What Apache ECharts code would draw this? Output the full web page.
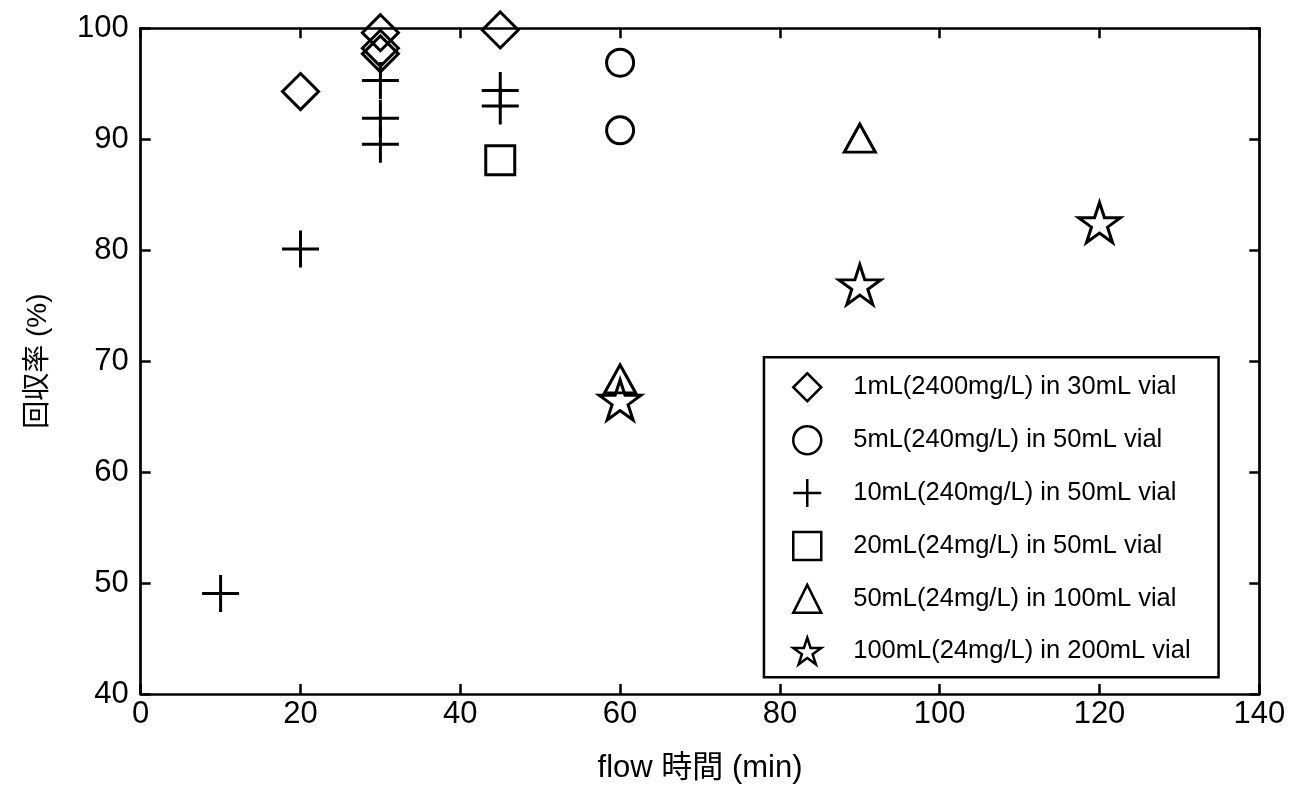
<!DOCTYPE html>
<html>
<head>
<meta charset="utf-8">
<script src="https://cdn.jsdelivr.net/npm/echarts@6/dist/echarts.min.js"></script>
<style>
html,body{margin:0;padding:0;background:#fff;}
#chart{width:1298px;height:789px;}
</style>
</head>
<body>
<div id="chart"></div>
<script>
// ---- data ----
const seriesNames = [
  '1mL(2400mg/L) in 30mL vial',
  '5mL(240mg/L) in 50mL vial',
  '10mL(240mg/L) in 50mL vial',
  '20mL(24mg/L) in 50mL vial',
  '50mL(24mg/L) in 100mL vial',
  '100mL(24mg/L) in 200mL vial'
];
const diamondX = [20, 30, 30, 30, 45];
const diamondY = [94.3, 99.6, 98.2, 97.7, 99.85];
const circleX = [60, 60];
const circleY = [96.9, 90.8];
const plusX = [10, 20, 30, 30, 30, 45, 45];
const plusY = [49.05, 80.1, 95.3, 91.9, 89.55, 94.4, 93.0];
const squareX = [45];
const squareY = [88.1];
const triangleX = [60, 90];
const triangleY = [68.4, 90.1];
const starX = [60, 90, 120];
const starY = [66.5, 76.9, 82.5];
const xTicks = [0, 20, 40, 60, 80, 100, 120, 140];
const yTicks = [40, 50, 60, 70, 80, 90, 100];

const FONT = "'Liberation Sans', 'Noto Sans CJK JP', sans-serif";
const STAR = 'path://M0,-1000L225,-309L951,-309L363,118L588,809L0,382L-588,809L-363,118L-951,-309L-225,-309Z';
const PLUS = 'path://M0,-100L0,100M-100,0L100,0';

function pts(xs, ys) { return xs.map((x, i) => [x, ys[i]]); }

const markerStyle = { color: 'rgba(255,255,255,0)', borderColor: '#000', borderWidth: 3, opacity: 1 };

const defs = [
  { data: pts(diamondX, diamondY), symbol: 'diamond', size: 36 },
  { data: pts(circleX, circleY), symbol: 'circle', size: 27 },
  { data: pts(plusX, plusY), symbol: PLUS, size: 37 },
  { data: pts(squareX, squareY), symbol: 'rect', size: 29 },
  { data: pts(triangleX, triangleY), symbol: 'triangle', size: [31, 28] },
  { data: pts(starX, starY), symbol: STAR, size: [42, 40] }
];

const series = defs.map((d, i) => ({
  name: seriesNames[i],
  type: 'scatter',
  data: d.data,
  symbol: d.symbol,
  symbolSize: d.size,
  itemStyle: markerStyle,
  emphasis: { disabled: true },
  xAxisIndex: 0,
  yAxisIndex: 0,
  z: 3
}));

const axisLineStyle = { color: '#000', width: 2.7 };
const tickStyle = { show: true, inside: true, length: 10, lineStyle: { color: '#000', width: 2.5 } };

const chart = echarts.init(document.getElementById('chart'), null, { renderer: 'canvas' });
chart.setOption({
  animation: false,
  backgroundColor: '#fff',
  textStyle: { fontFamily: FONT },
  grid: { left: 140.7, right: 38.7, top: 28.3, bottom: 91.3, containLabel: false },
  xAxis: [
    {
      type: 'value', min: xTicks[0], max: xTicks[xTicks.length - 1], interval: 20,
      position: 'bottom',
      name: 'flow 時間 (min)', nameLocation: 'middle', nameGap: 59,
      nameTextStyle: { fontSize: 31, color: '#000', fontFamily: FONT },
      axisLine: { show: true, onZero: false, lineStyle: axisLineStyle },
      axisTick: tickStyle,
      axisLabel: { fontSize: 31, color: '#000', margin: 5, fontFamily: FONT },
      splitLine: { show: false }
    },
    {
      type: 'value', min: xTicks[0], max: xTicks[xTicks.length - 1], interval: 20,
      position: 'top',
      axisLine: { show: true, onZero: false, lineStyle: axisLineStyle },
      axisTick: tickStyle,
      axisLabel: { show: false },
      splitLine: { show: false }
    }
  ],
  yAxis: [
    {
      type: 'value', min: yTicks[0], max: yTicks[yTicks.length - 1], interval: 10,
      position: 'left',
      name: '回収率 (%)', nameLocation: 'middle', nameGap: 88, nameRotate: 90,
      nameTextStyle: { fontSize: 28, color: '#000', fontFamily: FONT },
      axisLine: { show: true, onZero: false, lineStyle: axisLineStyle },
      axisTick: tickStyle,
      axisLabel: { fontSize: 31, color: '#000', margin: 12, fontFamily: FONT },
      splitLine: { show: false }
    },
    {
      type: 'value', min: yTicks[0], max: yTicks[yTicks.length - 1], interval: 10,
      position: 'right',
      axisLine: { show: true, onZero: false, lineStyle: axisLineStyle },
      axisTick: tickStyle,
      axisLabel: { show: false },
      splitLine: { show: false }
    }
  ],
  legend: {
    orient: 'vertical',
    left: 792, top: 372,
    padding: 0,
    itemWidth: 28, itemHeight: 28, itemGap: 22.4,
    selectedMode: false,
    borderWidth: 0,
    itemStyle: { borderWidth: 2.5 },
    textStyle: { fontSize: 25.5, color: '#000', fontFamily: FONT, padding: [0, 0, 0, 27] },
    data: seriesNames
  },
  graphic: [{
    type: 'rect', left: 762.7, top: 356,
    shape: { width: 454.6, height: 320 },
    style: { fill: 'rgba(0,0,0,0)', stroke: '#000', lineWidth: 2.5 },
    z: 10, silent: true
  }],
  series: series
});
</script>
</body>
</html>
